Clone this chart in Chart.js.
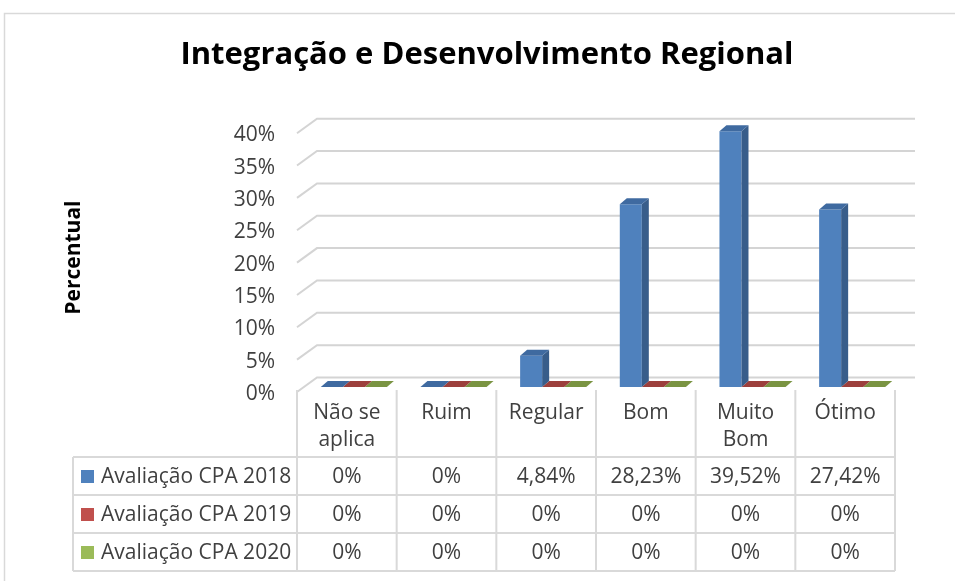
<!DOCTYPE html>
<html>
<head>
<meta charset="utf-8">
<script src="https://cdn.jsdelivr.net/npm/chart.js@4/dist/chart.umd.min.js"></script>
<style>
  html, body { margin: 0; padding: 0; background: #fff; }
  #wrap { position: relative; width: 955px; height: 581px; }
</style>
</head>
<body>
<div id="wrap"><canvas id="chart" width="955" height="581"></canvas></div>
<script>
// categories (multi-line labels as shown in the table header)
const categorias = [["Não se", "aplica"], "Ruim", "Regular", "Bom", ["Muito", "Bom"], "Ótimo"];
const series = ["Avaliação CPA 2018", "Avaliação CPA 2019", "Avaliação CPA 2020"];
const cpa2018 = [0, 0, 4.84, 28.23, 39.52, 27.42];
const cpa2019 = [0, 0, 0, 0, 0, 0];
const cpa2020 = [0, 0, 0, 0, 0, 0];
const yTicks = [0, 5, 10, 15, 20, 25, 30, 35, 40];

const frente = ["#4f81bd", "#c0504d", "#9bbb59"];
const lado = ["#385d8a", "#8c3836", "#71893f"];
const topo = ["#3f6aa0", "#9c3f3c", "#7a9442"];

const FONT = "'Open Sans', 'Noto Sans', sans-serif";
const TXT = "#404040";
const LINHA = "#d9d9d9";
const DX = 7, DY = -6;      // bar depth
const TX = -7;              // table offset vs bars

function fmt(v) {
  if (v === 0) return "0%";
  return v.toFixed(2).replace(".", ",") + "%";
}

const fundo = {
  id: "fundo",
  beforeDraw(chart) {
    const ctx = chart.ctx;
    ctx.save();
    ctx.fillStyle = "#fff";
    ctx.fillRect(0, 0, chart.width, chart.height);
    ctx.strokeStyle = LINHA;
    ctx.lineWidth = 1.5;
    ctx.strokeRect(4.5, 13.5, 1000, 1000);
    ctx.restore();
  },
  beforeDatasetsDraw(chart) {
    const ctx = chart.ctx, y = chart.scales.y, a = chart.chartArea;
    ctx.save();
    ctx.strokeStyle = "#d4d4d4";
    ctx.lineWidth = 2;
    yTicks.forEach(v => {
      const py = y.getPixelForValue(v);
      ctx.beginPath();
      ctx.moveTo(a.left - 7, py + 5);
      ctx.lineTo(a.left + 13, py - 9.5);
      ctx.lineTo(a.right + 13, py - 9.5);
      ctx.stroke();
    });
    ctx.restore();
  },
  afterDatasetsDraw(chart) {
    const ctx = chart.ctx;
    ctx.save();
    for (let d = chart.data.datasets.length - 1; d >= 0; d--) {
      const meta = chart.getDatasetMeta(d);
      meta.data.forEach(bar => {
        const l = bar.x - bar.width / 2, r = bar.x + bar.width / 2;
        const t = bar.y, b = bar.base;
        // side face
        ctx.fillStyle = lado[d];
        ctx.beginPath();
        ctx.moveTo(r, t); ctx.lineTo(r + DX, t + DY);
        ctx.lineTo(r + DX, b + DY); ctx.lineTo(r, b);
        ctx.closePath(); ctx.fill();
        // top face
        ctx.fillStyle = topo[d];
        ctx.beginPath();
        ctx.moveTo(l, t); ctx.lineTo(l + DX, t + DY);
        ctx.lineTo(r + DX, t + DY); ctx.lineTo(r, t);
        ctx.closePath(); ctx.fill();
      });
    }
    ctx.restore();
  },
  afterDraw(chart) {
    const ctx = chart.ctx, x = chart.scales.x;
    const w = (x.right - x.left) / categorias.length;
    const x0 = x.left + TX;
    const xEnd = x0 + w * categorias.length;
    const topHeader = 390, rows = [457, 495, 533, 571], legLeft = 73;
    const valores = [cpa2018, cpa2019, cpa2020];
    ctx.save();
    ctx.strokeStyle = LINHA;
    ctx.lineWidth = 2;
    ctx.beginPath();
    rows.forEach(ry => { ctx.moveTo(legLeft, ry); ctx.lineTo(xEnd, ry); });
    ctx.moveTo(legLeft, rows[0]); ctx.lineTo(legLeft, rows[3]);
    for (let i = 0; i <= categorias.length; i++) {
      ctx.moveTo(x0 + i * w, topHeader); ctx.lineTo(x0 + i * w, rows[3]);
    }
    ctx.stroke();

    ctx.font = "21px " + FONT;
    ctx.textBaseline = "middle";
    series.forEach((s, k) => {
      const cy = (rows[k] + rows[k + 1]) / 2;
      ctx.fillStyle = frente[k];
      ctx.fillRect(81, cy - 6, 13, 13);
      ctx.fillStyle = TXT;
      ctx.textAlign = "left";
      ctx.fillText(s, 101, cy + 1);
      ctx.textAlign = "center";
      valores[k].forEach((v, i) => {
        ctx.fillText(fmt(v), x0 + (i + 0.5) * w, cy + 1);
      });
    });
    ctx.restore();
  }
};

new Chart(document.getElementById("chart"), {
  type: "bar",
  data: {
    labels: categorias,
    datasets: series.map((s, k) => ({
      label: s,
      data: [cpa2018, cpa2019, cpa2020][k],
      backgroundColor: frente[k],
      borderWidth: 0,
      categoryPercentage: 0.663,
      barPercentage: 1
    }))
  },
  options: {
    responsive: false,
    animation: false,
    layout: { padding: { left: 72, right: 53, top: 0, bottom: 0 } },
    plugins: {
      legend: { display: false },
      tooltip: { enabled: false },
      title: {
        display: true,
        text: "Integração e Desenvolvimento Regional",
        color: "#000",
        font: { family: FONT, size: 31, weight: "bold" },
        padding: { top: 37, bottom: 54 }
      }
    },
    scales: {
      x: {
        grid: { display: false, drawTicks: false },
        border: { display: false },
        ticks: { color: TXT, font: { family: FONT, size: 21, lineHeight: 1.3 }, padding: 12,
                 labelOffset: TX, maxRotation: 0, autoSkip: false },
        afterFit(s) { s.height = 194; }
      },
      y: {
        min: 0, max: 40,
        grid: { display: false, drawTicks: false },
        border: { display: false },
        ticks: { stepSize: 5, color: TXT, font: { family: FONT, size: 21 }, padding: 29, labelOffset: 7,
                 callback: v => v + "%" },
        title: { display: true, text: "Percentual", color: "#000",
                 font: { family: FONT, size: 21, weight: "bold" }, padding: { top: -11 } },
        afterFit(s) { s.width = 232; }
      }
    }
  },
  plugins: [fundo]
});
</script>
</body>
</html>
